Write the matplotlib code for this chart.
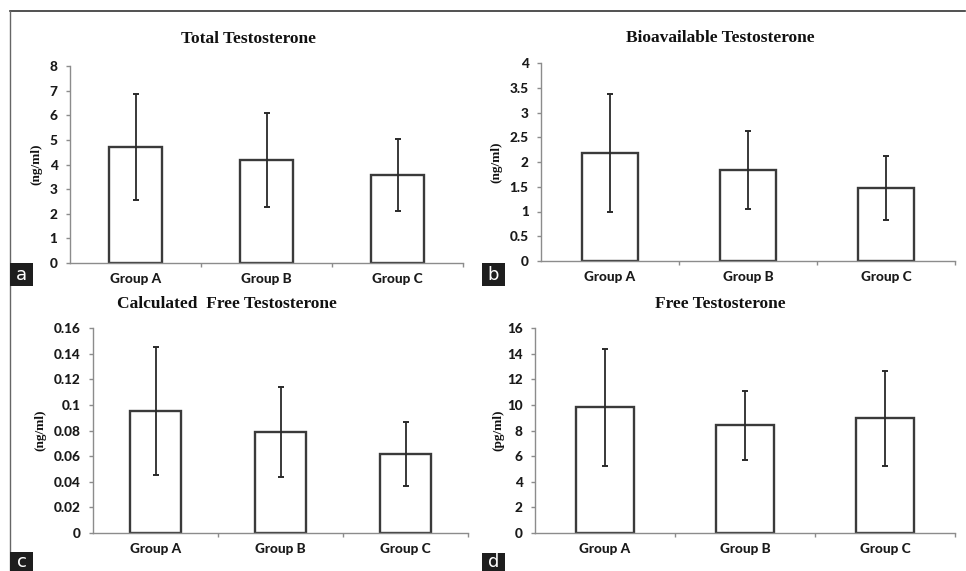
import matplotlib
matplotlib.use("Agg")
import matplotlib.pyplot as plt
from matplotlib.patches import Rectangle
from matplotlib.lines import Line2D

W, H = 966, 571

groups = ["Group A", "Group B", "Group C"]

total_mean = [4.72, 4.18, 3.57]
total_sd = [2.15, 1.91, 1.46]

bio_mean = [2.18, 1.84, 1.48]
bio_sd = [1.20, 0.78, 0.65]

cft_mean = [0.095, 0.079, 0.062]
cft_sd = [0.050, 0.035, 0.025]

ft_mean = [9.8, 8.4, 8.95]
ft_sd = [4.6, 2.7, 3.7]

fig = plt.figure(figsize=(W / 100, H / 100), dpi=100)
fig.patch.set_facecolor("white")

SANS = "Lato"
SERIF = "Liberation Serif"
AXIS_GREY = "#8c8c8c"
BAR_EDGE = "#3a3a3a"


def px_axes(x0, y0, x1, y1):
    # pixel box (top-left origin) -> figure axes
    return fig.add_axes([x0 / W, 1 - y1 / H, (x1 - x0) / W, (y1 - y0) / H])


def panel(box, means, sds, ymax, ystep, title, title_xy, ylabel, ylabel_x, letter, letter_box):
    ax = px_axes(*box)
    x = range(len(groups))
    ax.bar(x, means, width=0.41, color="white", edgecolor=BAR_EDGE, linewidth=1.7, zorder=2)
    ax.errorbar(x, means, yerr=sds, fmt="none", ecolor="#2a2a2a", elinewidth=1.3,
                capsize=2.5, capthick=1.4, zorder=3)
    ax.set_xlim(-0.5, len(groups) - 0.5)
    ax.set_ylim(0, ymax)
    n = int(round(ymax / ystep))
    ticks = [i * ystep for i in range(n + 1)]
    ax.set_yticks(ticks)
    ax.set_yticklabels(["%g" % round(t, 4) for t in ticks])
    ax.set_xticks(list(x))
    ax.set_xticklabels(groups)
    ax.set_xticks([i + 0.5 for i in range(len(groups))], minor=True)
    for s in ("top", "right"):
        ax.spines[s].set_visible(False)
    for s in ("left", "bottom"):
        ax.spines[s].set_color(AXIS_GREY)
        ax.spines[s].set_linewidth(1.0)
    ax.tick_params(axis="y", length=3, width=1, color=AXIS_GREY, pad=6,
                   labelsize=9.8, labelcolor="#1a1a1a")
    ax.tick_params(axis="x", which="major", length=0, pad=7, labelsize=9.8, labelcolor="#1a1a1a")
    ax.tick_params(axis="x", which="minor", length=3, width=1, color=AXIS_GREY, direction="out")
    for lab in ax.get_yticklabels() + ax.get_xticklabels():
        lab.set_fontfamily(SANS)
        lab.set_fontweight("black")
    ax.patch.set_alpha(0)

    fig.text(title_xy[0] / W, 1 - title_xy[1] / H, title, ha="center", va="center",
             fontsize=12.5, fontweight="bold", family=SERIF, color="#111111")
    mid = (box[1] + box[3]) / 2
    fig.text(ylabel_x / W, 1 - mid / H, ylabel, rotation=90, ha="center", va="center",
             fontsize=9.5, fontweight="bold", family=SERIF, color="#111111")

    lx0, ly0, lx1, ly1 = letter_box
    fig.add_artist(Rectangle((lx0 / W, 1 - ly1 / H), (lx1 - lx0) / W, (ly1 - ly0) / H,
                             transform=fig.transFigure, facecolor="#1e1e1e",
                             edgecolor="none", zorder=5))
    cy = min((ly0 + ly1) / 2 + 1, 562)
    fig.text((lx0 + lx1) / 2 / W, 1 - cy / H, letter, ha="center",
             va="center", color="white", fontsize=13, family="DejaVu Sans", zorder=6)
    return ax


panel((70, 66, 463, 263), total_mean, total_sd, 8, 1,
      "Total Testosterone", (248, 39), "(ng/ml)", 36, "a", (10, 263, 33, 286))
panel((541, 63, 955, 261), bio_mean, bio_sd, 4, 0.5,
      "Bioavailable Testosterone", (720, 38), "(ng/ml)", 496, "b", (482, 263, 505, 286))
panel((93, 328, 468, 533), cft_mean, cft_sd, 0.16, 0.02,
      "Calculated  Free Testosterone", (227, 304), "(ng/ml)", 40, "c", (10, 552, 33, 575))
panel((535, 328, 955, 533), ft_mean, ft_sd, 16, 2,
      "Free Testosterone", (720, 304), "(pg/ml)", 498, "d", (482, 553, 505, 576))

# outer frame (top and left edges)
fig.add_artist(Line2D([10 / W, 965 / W], [1 - 11 / H, 1 - 11 / H], transform=fig.transFigure,
                      color="#333333", linewidth=1.2))
fig.add_artist(Line2D([10 / W, 10 / W], [1 - 11 / H, 0], transform=fig.transFigure,
                      color="#666666", linewidth=1.0))

fig.savefig("out.png", dpi=100)
